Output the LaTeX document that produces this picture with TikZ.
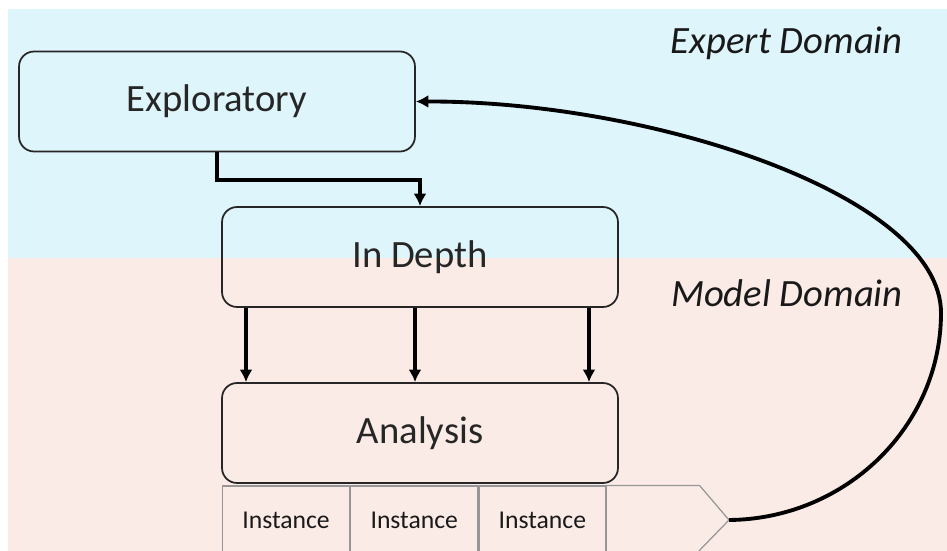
\documentclass[tikz,border=0pt]{standalone}
\usepackage{fontspec}
\setmainfont{Carlito}
\usetikzlibrary{arrows.meta,positioning}
\definecolor{expertblue}{RGB}{222,245,252}
\definecolor{modelpink}{RGB}{251,235,230}
\definecolor{cellgray}{RGB}{150,150,150}

\begin{document}
\begin{tikzpicture}[x=0.02cm,y=-0.02cm,
	stage/.style={draw=black!85,line width=1pt,rounded corners=0.3cm,minimum width=7.92cm,minimum height=2cm,font=\fontsize{22}{26}\selectfont,text=black!85},
	cell/.style={draw=cellgray,line width=0.7pt,minimum width=2.54cm,minimum height=1.36cm,inner sep=0pt,font=\fontsize{14.6}{17}\selectfont,text=black!90},
	domainlabel/.style={anchor=east,inner sep=0pt,font=\fontsize{22}{26}\selectfont\itshape,text=black!90},
	flow/.style={line width=2.2pt,-{Latex[length=0.25cm,width=0.26cm]}}]

	% all coordinates below are pixels of the 947 x 551 picture, y going downwards
	\useasboundingbox (0,0) rectangle (947,551);
	\clip (0,0) rectangle (947,551);
	
	% the two domains
	\fill[white] (0,0) rectangle (947,551);
	\fill[expertblue] (8,9) rectangle (947,258);
	\fill[modelpink] (8,258) rectangle (947,551);
	\node[domainlabel] (expert) at (903,43) {Expert Domain};
	\node[domainlabel] (model) at (903,293) {Model Domain};
	
	% the three stages
	\node[stage] (explore) at (217,101.5) {Exploratory};
	\node[stage] (indepth) at (420,257) {In Depth};
	\node[stage] (analysis) at (420,433) {Analysis};
	
	% row of instances under the analysis, ending in a chevron
	\node[cell] (inst1) at (286,520) {Instance};
	\foreach \i/\j in {2/1,3/2}
		\node[cell,right=0pt of inst\j] (inst\i) {Instance};
	\draw[cellgray,line width=0.7pt] (inst3.north east) -- ++(93,0) -- (729,520) coordinate (tip) -- (696,554) -- (inst3.south east);
	
	% connectors
	\draw[flow] (explore.south) -- ++(0,28) -| (indepth.north);
	\foreach \dx in {-174,-5,169}
		\draw[flow] ([xshift={\dx*0.02cm}]indepth.south) -- ([xshift={\dx*0.02cm}]analysis.north);
	\draw[flow] (tip) .. controls (846,519) and (941,426) .. (941,313) .. controls (941,196) and (653,101) .. (explore.east);

\end{tikzpicture}
\end{document}
